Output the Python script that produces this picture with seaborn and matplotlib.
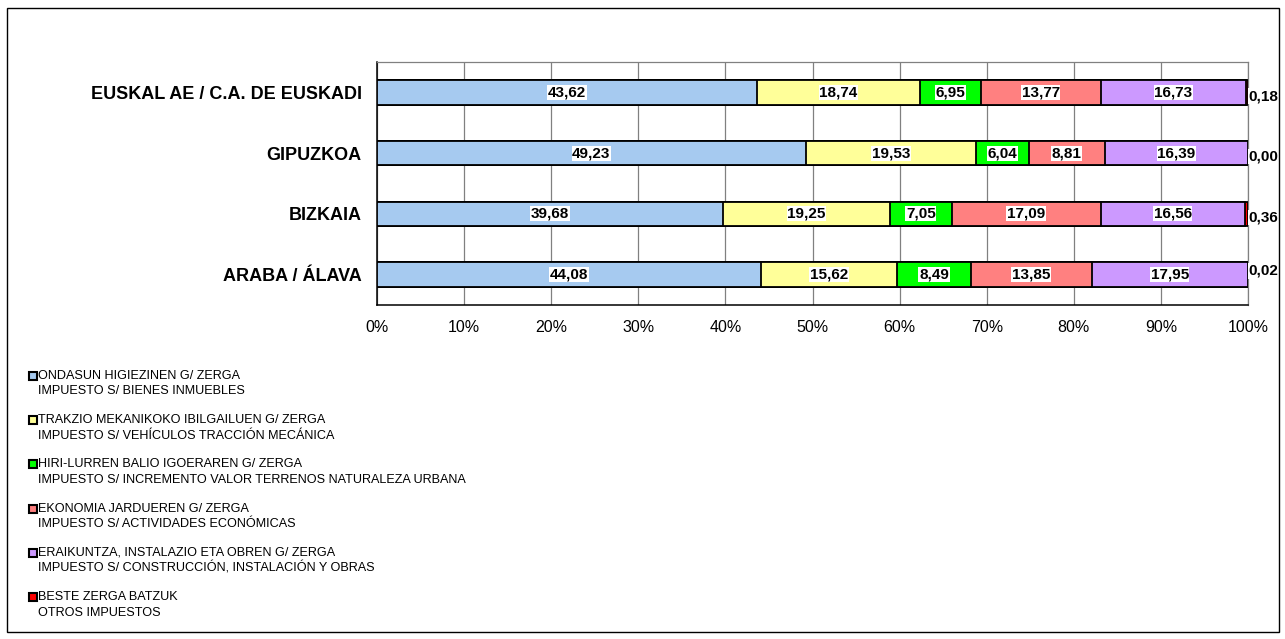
import numpy as np
import pandas as pd
import seaborn as sns
import matplotlib.pyplot as plt
from matplotlib.patches import Rectangle

# data (percent of total)
regions = ['EUSKAL AE / C.A. DE EUSKADI', 'GIPUZKOA', 'BIZKAIA', 'ARABA / ÁLAVA']
ondasun = [43.62, 49.23, 39.68, 44.08]
trakzio = [18.74, 19.53, 19.25, 15.62]
hiri_lurren = [6.95, 6.04, 7.05, 8.49]
ekonomia = [13.77, 8.81, 17.09, 13.85]
eraikuntza = [16.73, 16.39, 16.56, 17.95]
beste = [0.18, 0.00, 0.36, 0.02]
x_ticks = list(range(0, 101, 10))

series_list = [ondasun, trakzio, hiri_lurren, ekonomia, eraikuntza, beste]
legend_lines = [
    ('ONDASUN HIGIEZINEN G/ ZERGA', 'IMPUESTO S/ BIENES INMUEBLES'),
    ('TRAKZIO MEKANIKOKO IBILGAILUEN G/ ZERGA', 'IMPUESTO S/ VEHÍCULOS TRACCIÓN MECÁNICA'),
    ('HIRI-LURREN BALIO IGOERAREN G/ ZERGA', 'IMPUESTO S/ INCREMENTO VALOR TERRENOS NATURALEZA URBANA'),
    ('EKONOMIA JARDUEREN G/ ZERGA', 'IMPUESTO S/ ACTIVIDADES ECONÓMICAS'),
    ('ERAIKUNTZA, INSTALAZIO ETA OBREN G/ ZERGA', 'IMPUESTO S/ CONSTRUCCIÓN, INSTALACIÓN Y OBRAS'),
    ('BESTE ZERGA BATZUK', 'OTROS IMPUESTOS'),
]
colors = ['#A6CAF0', '#FFFF99', '#00FF00', '#FF8080', '#CC99FF', '#FF0000']

sns.set_style('white')
plt.rcParams['font.family'] = ['Liberation Sans', 'DejaVu Sans']
plt.rcParams['text.color'] = 'black'
plt.rcParams['xtick.color'] = 'black'
plt.rcParams['ytick.color'] = 'black'

W, H = 1285, 639
fig = plt.figure(figsize=(W / 100, H / 100), dpi=100)
ax = fig.add_axes([377 / W, 1 - 305 / H, (1248 - 377) / W, (305 - 62) / H])

df = pd.DataFrame(np.array(series_list).T, index=regions)
cum = df.cumsum(axis=1)

# draw cumulative bars from the longest to the shortest so they stack
for k in reversed(range(len(series_list))):
    sns.barplot(x=cum[k].values, y=regions, order=regions, orient='h',
                color=colors[k], saturation=1, width=0.4, errorbar=None,
                edgecolor='black', linewidth=1.3, ax=ax, zorder=3)

# value labels
label_kw = dict(va='center', fontsize=11, fontweight='bold', zorder=5,
                bbox=dict(facecolor='white', edgecolor='none', pad=0.4))
end_offsets = [0.06, 0.06, 0.06, -0.06]
for i, region in enumerate(regions):
    left = 0.0
    for k, vals in enumerate(series_list):
        v = vals[i]
        txt = '{:.2f}'.format(v).replace('.', ',')
        if k == len(series_list) - 1:
            ax.text(100.05, i + end_offsets[i], txt, ha='left', clip_on=False, **label_kw)
        else:
            ax.text(left + v / 2, i, txt, ha='center', **label_kw)
        left += v

ax.set_xlim(0, 100)
ax.set_ylim(len(regions) - 0.5, -0.5)
ax.set_xticks(x_ticks)
ax.set_xticklabels(['{}%'.format(t) for t in x_ticks], fontsize=11.5)
ax.set_yticks(range(len(regions)))
ax.set_yticklabels(regions, fontsize=13, fontweight='bold')
ax.set_yticks(np.arange(-0.5, len(regions), 1.0), minor=True)
ax.tick_params(axis='y', which='major', length=0, pad=11)
ax.tick_params(axis='y', which='minor', length=5, width=1, color='black', direction='out')
ax.tick_params(axis='x', which='major', length=5, width=1, color='black', direction='out', pad=6)
ax.set_xlabel('')
ax.set_ylabel('')
ax.xaxis.grid(True, color='#808080', linewidth=0.9, zorder=0)
ax.set_axisbelow(True)
for side in ['left', 'bottom']:
    ax.spines[side].set_color('black')
    ax.spines[side].set_linewidth(1.1)
for side in ['top', 'right']:
    ax.spines[side].set_visible(True)
    ax.spines[side].set_color('#808080')
    ax.spines[side].set_linewidth(0.9)

# legend block, two lines per entry
for k, (line1, line2) in enumerate(legend_lines):
    y = 376 + 44.2 * k
    fig.patches.append(Rectangle((28.5 / W, 1 - (y + 4) / H), 8 / W, 8 / H,
                                 transform=fig.transFigure, facecolor=colors[k],
                                 edgecolor='black', linewidth=1.5))
    fig.text(38.5 / W, 1 - y / H, line1, fontsize=9.1, va='center', ha='left')
    fig.text(38.5 / W, 1 - (y + 15.5) / H, line2, fontsize=9.1, va='center', ha='left')

# outer chart border
fig.patches.append(Rectangle((7 / W, 1 - 632 / H), (1279 - 7) / W, (632 - 8) / H,
                             transform=fig.transFigure, fill=False,
                             edgecolor='black', linewidth=1.0))

fig.savefig('out.png', dpi=100)
